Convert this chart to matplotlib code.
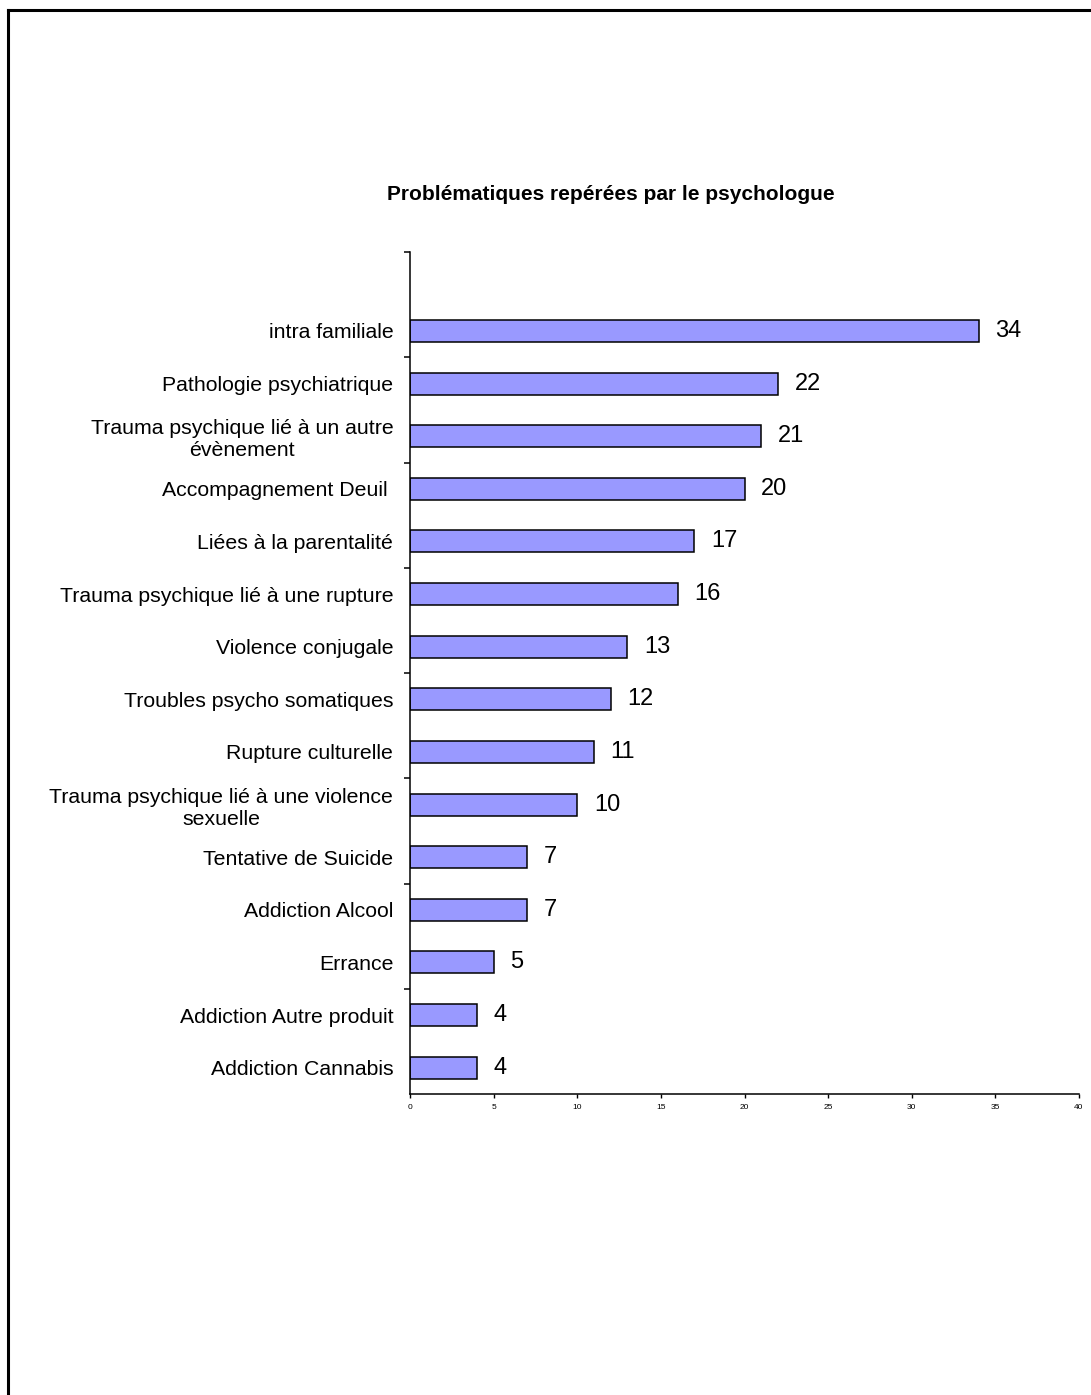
import matplotlib
matplotlib.use("Agg")
import matplotlib.pyplot as plt
from matplotlib.lines import Line2D
import numpy as np

plt.rcParams["font.family"] = ["Liberation Sans", "DejaVu Sans"]

# categories listed top to bottom
categories = [
    "intra familiale",
    "Pathologie psychiatrique",
    "Trauma psychique lié à un autre\névènement",
    "Accompagnement Deuil ",
    "Liées à la parentalité",
    "Trauma psychique lié à une rupture",
    "Violence conjugale",
    "Troubles psycho somatiques",
    "Rupture culturelle",
    "Trauma psychique lié à une violence\nsexuelle",
    "Tentative de Suicide",
    "Addiction Alcool",
    "Errance",
    "Addiction Autre produit",
    "Addiction Cannabis",
]
counts = [34, 22, 21, 20, 17, 16, 13, 12, 11, 10, 7, 7, 5, 4, 4]
x_ticks = list(range(0, 41, 5))

W, H = 1091, 1395
fig = plt.figure(figsize=(W / 100, H / 100), dpi=100)
ax = fig.add_axes([410 / W, 1 - 1094 / H, (1079 - 410) / W, (1094 - 252) / H])

n = len(categories)
ypos = np.arange(n)[::-1]  # top category gets the highest slot
ax.barh(ypos, counts, height=0.42, color="#9999FF", edgecolor="black", linewidth=1.1)

for y, v in zip(ypos, counts):
    ax.annotate(str(v), (v, y), xytext=(12, 0), textcoords="offset points",
                va="center", ha="left", fontsize=17)

ax.set_xlim(0, 40)
ax.set_ylim(-0.5, n + 0.5)  # one empty slot above the first bar
ax.set_xticks(x_ticks)
ax.tick_params(axis="x", direction="out", length=3, width=1, labelsize=6, pad=4)

ax.set_yticks(ypos)
ax.set_yticklabels(categories, fontsize=15.3)
for lab in ax.get_yticklabels():
    lab.set_multialignment("center")
ax.tick_params(axis="y", which="major", length=0, pad=12)
ax.set_yticks(np.arange(n + 0.5, 0, -2), minor=True)
ax.tick_params(axis="y", which="minor", direction="out", length=4, width=1.1)

for s in ("top", "right"):
    ax.spines[s].set_visible(False)
for s in ("left", "bottom"):
    ax.spines[s].set_linewidth(1.1)

fig.text(611 / W, 1 - 195 / H, "Problématiques repérées par le psychologue",
         ha="center", va="center", fontsize=15, fontweight="bold")

# outer frame (left and top edges)
fig.add_artist(Line2D([8 / W, 8 / W], [0, 1 - 10 / H], color="black", lw=2.2))
fig.add_artist(Line2D([8 / W, 1], [1 - 10 / H, 1 - 10 / H], color="black", lw=2.2))

fig.savefig("out.png", dpi=100, facecolor="white")
